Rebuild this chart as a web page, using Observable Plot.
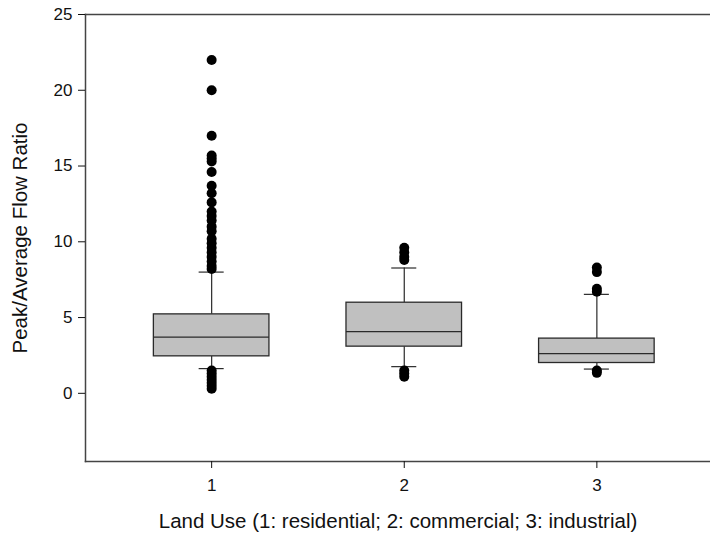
<!DOCTYPE html>
<html>
<head>
<meta charset="utf-8">
<script src="https://cdn.jsdelivr.net/npm/d3@7"></script>
<script src="https://cdn.jsdelivr.net/npm/@observablehq/plot@0.6"></script>
<style>
  html, body { margin: 0; padding: 0; background: #fff; }
  #chart { width: 710px; height: 537px; }
  svg { overflow: visible; }
</style>
</head>
<body>
<div id="chart"></div>
<script>
// Land use categories (1: residential, 2: commercial, 3: industrial)
const categories = [1, 2, 3];
// Box statistics
const q1 = [2.44, 3.08, 2.0];
const medians = [3.71, 4.07, 2.62];
const q3 = [5.21, 5.98, 3.61];
const whiskerLow = [1.63, 1.76, 1.6];
const whiskerHigh = [8.0, 8.27, 6.53];
// Outliers per category
const outliers1 = [22.0, 20.0, 17.0, 15.7, 15.5, 15.3, 14.6, 13.7, 13.2, 12.6, 12.0, 11.7, 11.4, 11.0, 10.7, 10.2, 9.9, 9.6, 9.3, 9.0, 8.7, 8.4, 8.2,
                   1.5, 1.3, 1.1, 0.9, 0.7, 0.5, 0.3];
const outliers2 = [9.6, 9.3, 9.0, 8.8, 1.5, 1.3, 1.1];
const outliers3 = [8.3, 8.0, 6.9, 6.7, 1.5, 1.35];
const yTicks = [0, 5, 10, 15, 20, 25];
const xLabel = "Land Use (1: residential; 2: commercial; 3: industrial)";
const yLabel = "Peak/Average Flow Ratio";

const boxHalf = 0.3, capHalf = 0.065;
const boxes = categories.map((c, i) => ({
  cat: c, q1: q1[i], med: medians[i], q3: q3[i], lo: whiskerLow[i], hi: whiskerHigh[i]
}));
const outlierData = [outliers1, outliers2, outliers3].flatMap((arr, i) =>
  arr.map(v => ({cat: categories[i], v})));

const lineColor = "#2a2a2a";
const textColor = "#111";
const plot = Plot.plot({
  width: 710,
  height: 537,
  marginLeft: 85,
  marginTop: 14,
  marginBottom: 76,
  marginRight: 0,
  style: {fontFamily: "'Liberation Sans', Arial, sans-serif", fontSize: "17px", color: textColor, background: "#fff"},
  x: {domain: [0.345, 3.59]},
  y: {domain: [-4.5, 25]},
  marks: [
    Plot.frame({anchor: "left", stroke: "#444", strokeWidth: 1.5}),
    Plot.frame({anchor: "top", stroke: "#444", strokeWidth: 1.5}),
    Plot.frame({anchor: "bottom", stroke: "#444", strokeWidth: 1.5}),
    // whiskers
    Plot.ruleX(boxes, {x: "cat", y1: "q3", y2: "hi", stroke: lineColor, strokeWidth: 1.2}),
    Plot.ruleX(boxes, {x: "cat", y1: "lo", y2: "q1", stroke: lineColor, strokeWidth: 1.2}),
    // caps
    Plot.ruleY(boxes, {y: "hi", x1: d => d.cat - capHalf, x2: d => d.cat + capHalf, stroke: lineColor, strokeWidth: 1.2}),
    Plot.ruleY(boxes, {y: "lo", x1: d => d.cat - capHalf, x2: d => d.cat + capHalf, stroke: lineColor, strokeWidth: 1.2}),
    // boxes
    Plot.rect(boxes, {x1: d => d.cat - boxHalf, x2: d => d.cat + boxHalf, y1: "q1", y2: "q3",
      fill: "#c0c0c0", stroke: lineColor, strokeWidth: 1.3}),
    // medians
    Plot.ruleY(boxes, {y: "med", x1: d => d.cat - boxHalf, x2: d => d.cat + boxHalf, stroke: lineColor, strokeWidth: 1.3}),
    // outliers
    Plot.dot(outlierData, {x: "cat", y: "v", r: 5, fill: "#000", stroke: "none"}),
    Plot.axisX({ticks: categories, tickFormat: d => String(d), tickSize: 7, tickPadding: 10, fontSize: 17, label: null}),
    Plot.axisY({ticks: yTicks, tickSize: 7, tickPadding: 6, fontSize: 17, label: null}),
    Plot.text([xLabel], {frameAnchor: "bottom", text: d => d, dy: 66, fontSize: 20.5, fill: textColor}),
    Plot.text([yLabel], {frameAnchor: "left", text: d => d, dx: -65, rotate: -90, textAnchor: "middle", fontSize: 20.5, fill: textColor})
  ]
});
document.getElementById("chart").appendChild(plot);
</script>
</body>
</html>
